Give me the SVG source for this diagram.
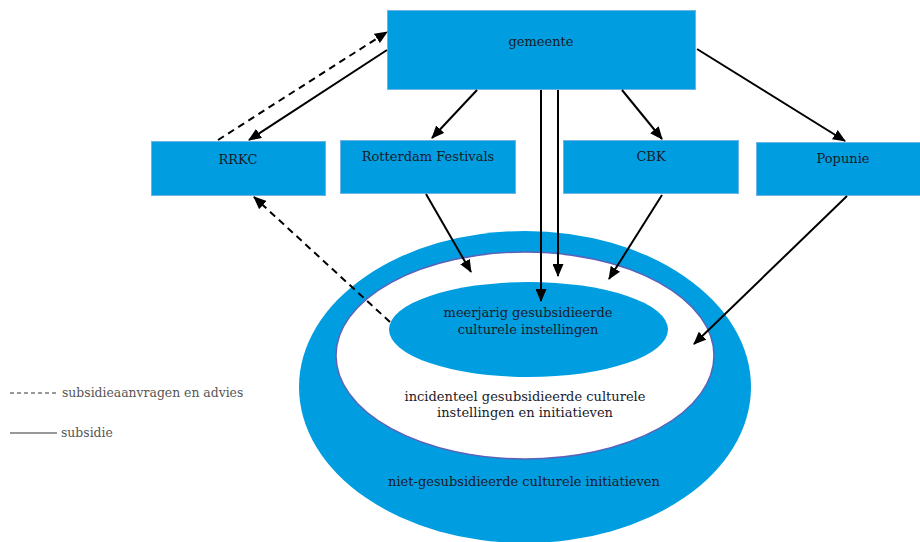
<svg xmlns="http://www.w3.org/2000/svg" width="920" height="542" viewBox="0 0 920 542">
<style>
.box{fill:#009ee0;stroke:#6fb4e6;stroke-width:1}
.t{font-family:"DejaVu Serif","Liberation Serif",serif;font-size:13px;fill:#1a1a2a;text-anchor:middle}
.lg{font-family:"DejaVu Serif","Liberation Serif",serif;font-size:12.4px;fill:#555}
.c{stroke:#000;stroke-width:2;fill:none;marker-end:url(#ah)}
.d{stroke-dasharray:7 5}
</style>
<defs>
<marker id="ah" viewBox="0 0 13 11" refX="12" refY="5.5" markerWidth="13" markerHeight="11" markerUnits="userSpaceOnUse" orient="auto">
<path d="M0,0 L13,5.5 L0,11 Z" fill="#000"/>
</marker>
</defs>
<rect width="920" height="542" fill="#fff"/>
<g id="circles">
<ellipse cx="525" cy="387" rx="226" ry="156" fill="#009ee0"/>
<ellipse cx="525" cy="355.5" rx="189" ry="103.5" fill="#fff" stroke="#5b62b8" stroke-width="1.5"/>
<ellipse cx="528.5" cy="329.5" rx="139.5" ry="47.5" fill="#009ee0"/>
<text class="t" x="528" y="317">meerjarig gesubsidieerde</text>
<text class="t" x="528" y="334">culturele instellingen</text>
<text class="t" x="525" y="401">incidenteel gesubsidieerde culturele</text>
<text class="t" x="525" y="417">instellingen en initiatieven</text>
<text class="t" x="524" y="486">niet-gesubsidieerde culturele initiatieven</text>
</g>
<g id="gemeente"><rect class="box" x="387.5" y="10.5" width="308" height="79"/><text class="t" x="541" y="46">gemeente</text></g>
<g id="rrkc"><rect class="box" x="151.5" y="141.5" width="174" height="54"/><text class="t" x="238" y="164">RRKC</text></g>
<g id="rf"><rect class="box" x="340.5" y="140.5" width="175" height="53"/><text class="t" x="428" y="161">Rotterdam Festivals</text></g>
<g id="cbk"><rect class="box" x="563.5" y="140.5" width="175" height="53"/><text class="t" x="651" y="161">CBK</text></g>
<g id="popunie"><rect class="box" x="756.5" y="142.5" width="170" height="53"/><text class="t" x="843" y="163">Popunie</text></g>
<g id="connectors">
<line class="c d" x1="218" y1="140" x2="387" y2="32"/>
<line class="c" x1="387" y1="50" x2="249" y2="140"/>
<line class="c" x1="477" y1="90" x2="432" y2="138"/>
<line class="c" x1="541" y1="90" x2="541" y2="301"/>
<line class="c" x1="558" y1="90" x2="558" y2="276"/>
<line class="c" x1="622" y1="90" x2="662" y2="139"/>
<line class="c" x1="697" y1="49" x2="845" y2="141"/>
<line class="c" x1="426" y1="194" x2="471" y2="272"/>
<line class="c" x1="662" y1="195" x2="609" y2="279"/>
<line class="c" x1="847" y1="196" x2="694" y2="344"/>
<line class="c d" x1="390" y1="322" x2="254" y2="197"/>
</g>
<g id="legend">
<line x1="10" y1="393" x2="57" y2="393" stroke="#333" stroke-width="1.2" stroke-dasharray="4 3"/>
<text class="lg" x="62" y="397">subsidieaanvragen en advies</text>
<line x1="10" y1="433" x2="57" y2="433" stroke="#333" stroke-width="1.2"/>
<text class="lg" x="61" y="437">subsidie</text>
</g>
</svg>
